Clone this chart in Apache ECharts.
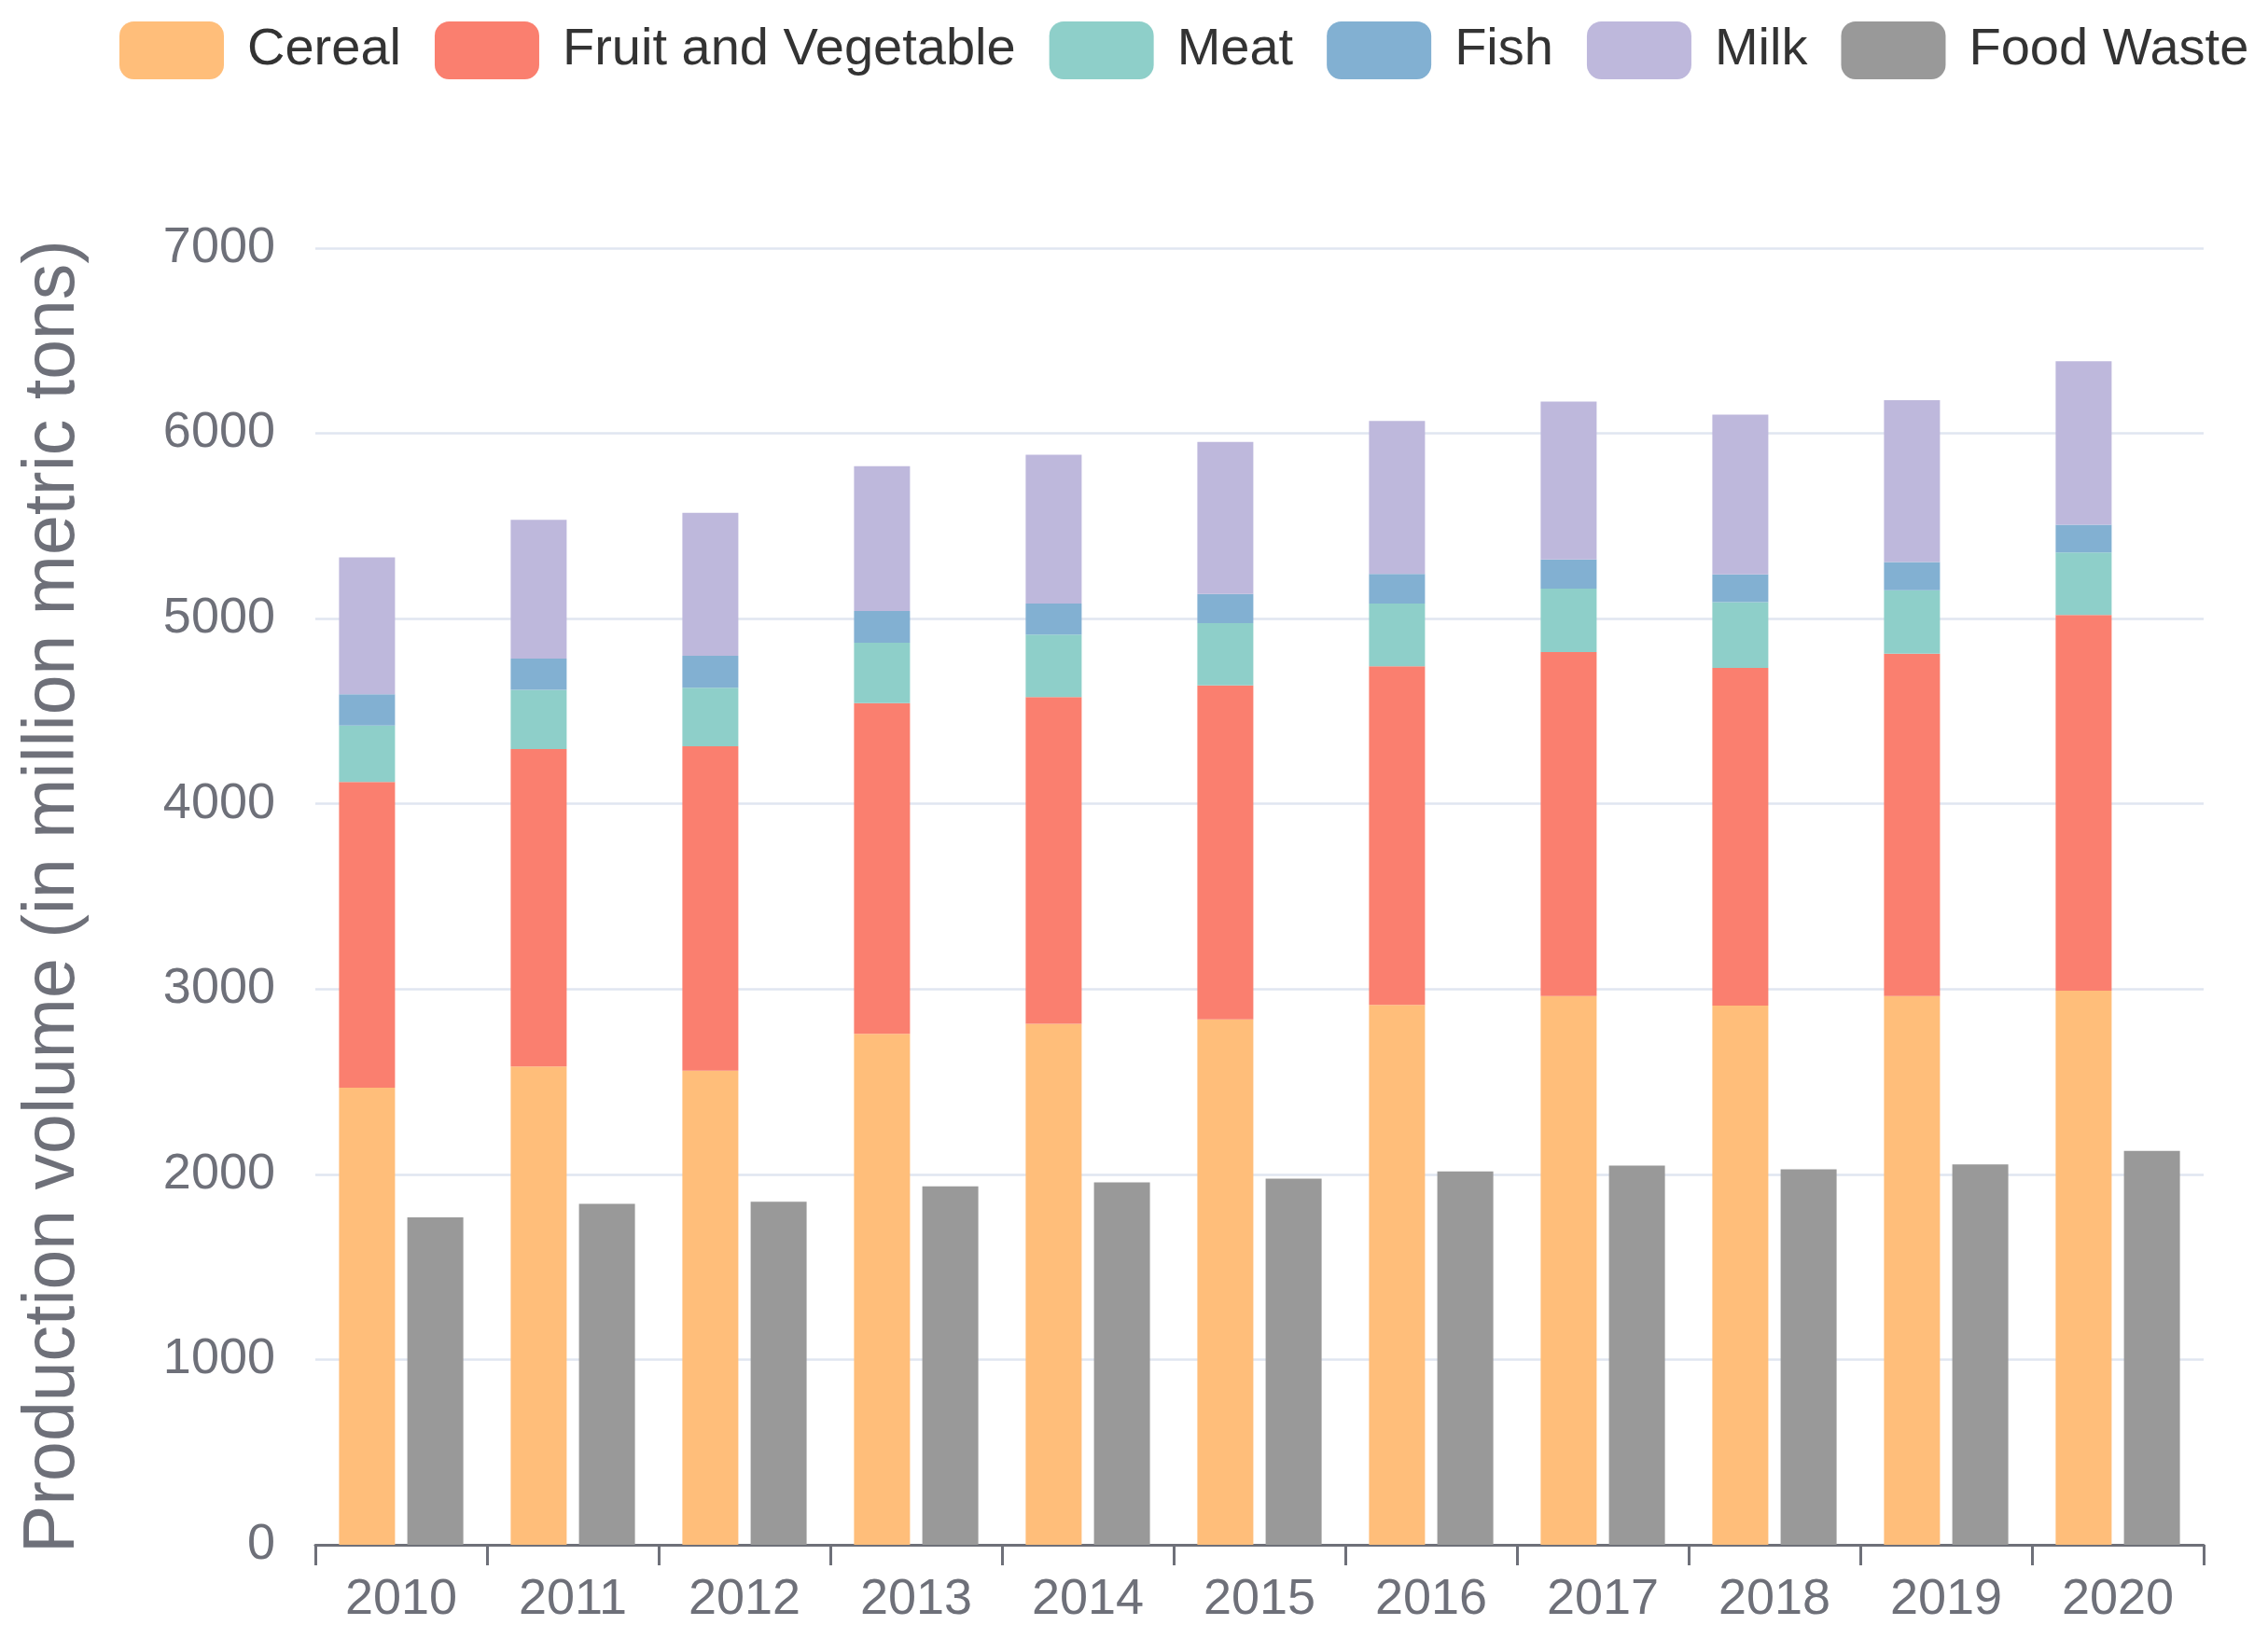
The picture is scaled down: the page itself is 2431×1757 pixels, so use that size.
<!DOCTYPE html>
<html>
<head>
<meta charset="utf-8">
<script src="https://cdn.jsdelivr.net/npm/echarts@6/dist/echarts.min.js"></script>
<style>
html,body{margin:0;padding:0;background:#fff;}
#chart{width:2431px;height:1757px;}
</style>
</head>
<body>
<div id="chart"></div>
<script>
const years = ['2010','2011','2012','2013','2014','2015','2016','2017','2018','2019','2020'];
const cereal = [2467, 2582, 2559, 2758, 2813, 2836, 2914, 2963, 2911, 2963, 2991];
const fruitVeg = [1651, 1714, 1752, 1786, 1764, 1803, 1829, 1857, 1823, 1848, 2029];
const meat = [305, 319, 316, 326, 337, 337, 338, 342, 355, 342, 337];
const fish = [169, 169, 172, 171, 167, 157, 160, 157, 150, 152, 150];
const milk = [738, 749, 772, 782, 803, 821, 826, 852, 862, 874, 882];
const foodWaste = [1767, 1841, 1852, 1935, 1957, 1977, 2016, 2047, 2027, 2054, 2126];

const FONT = 'Liberation Sans, Arial, sans-serif';
const chart = echarts.init(document.getElementById('chart'), null, {renderer: 'canvas'});

function bar(name, data, color, stack) {
  return {
    name: name, type: 'bar', stack: stack, data: data,
    barWidth: 60, barGap: '22%',
    itemStyle: {color: color},
    emphasis: {disabled: true}
  };
}

chart.setOption({
  animation: false,
  backgroundColor: '#ffffff',
  color: ['#FFBE7A', '#FA7F6F', '#8ECFC9', '#82B0D2', '#BEB8DC', '#999999'],
  legend: {
    left: 123, top: 18,
    itemWidth: 112, itemHeight: 62, itemGap: 36,
    icon: 'roundRect',
    textStyle: {fontFamily: FONT, fontSize: 56, color: '#333', padding: [0, 0, 0, 20]},
    data: ['Cereal', 'Fruit and Vegetable', 'Meat', 'Fish', 'Milk', 'Food Waste']
  },
  grid: {left: 338, right: 69, top: 266, bottom: 101, containLabel: false},
  xAxis: {
    type: 'category', data: years,
    axisLine: {show: true, lineStyle: {color: '#6E7079', width: 3}},
    axisTick: {show: true, length: 22, alignWithLabel: false, lineStyle: {width: 3, color: '#6E7079'}},
    axisLabel: {fontFamily: FONT, fontSize: 54, color: '#6E7079', margin: 32}
  },
  yAxis: {
    type: 'value', min: 0, max: 7000, interval: 1000,
    name: 'Production volume (in million metric tons)',
    nameLocation: 'middle', nameGap: 242,
    nameTextStyle: {fontFamily: FONT, fontSize: 77, color: '#6E7079'},
    axisLabel: {fontFamily: FONT, fontSize: 54, color: '#6E7079', margin: 43,
      formatter: function (v) { return String(v); }},
    axisLine: {show: false},
    axisTick: {show: false},
    splitLine: {lineStyle: {color: '#E0E6F1', width: 2.5}}
  },
  series: [
    bar('Cereal', cereal, '#FFBE7A', 'prod'),
    bar('Fruit and Vegetable', fruitVeg, '#FA7F6F', 'prod'),
    bar('Meat', meat, '#8ECFC9', 'prod'),
    bar('Fish', fish, '#82B0D2', 'prod'),
    bar('Milk', milk, '#BEB8DC', 'prod'),
    bar('Food Waste', foodWaste, '#999999', 'waste')
  ]
});
</script>
</body>
</html>
